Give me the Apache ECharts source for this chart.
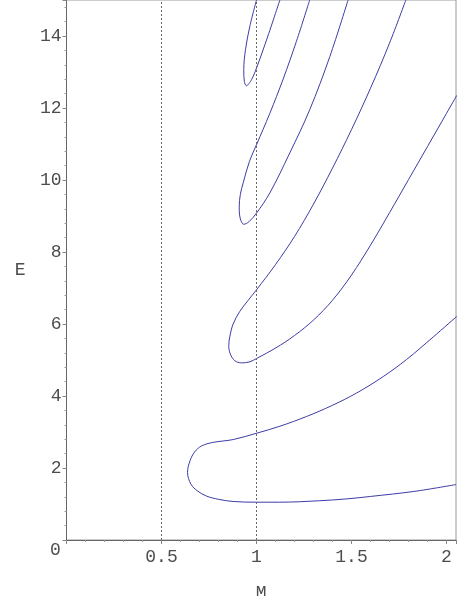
<!DOCTYPE html>
<html>
<head>
<meta charset="utf-8">
<title>E vs M</title>
<script src="https://cdn.jsdelivr.net/npm/echarts@6/dist/echarts.min.js"></script>
<style>
  html, body { margin: 0; padding: 0; background: #fff; }
  #chart { width: 457px; height: 596px; }
</style>
</head>
<body>
<div id="chart"></div>
<script>
// curves, [M, E]
const curve1 = [
  [2.05, 1.54], [1.83, 1.35], [1.6, 1.21], [1.47, 1.14], [1.33, 1.09], [1.12, 1.05],
  [1.0, 1.05], [0.877, 1.07], [0.80, 1.13], [0.737, 1.22], [0.69, 1.36], [0.655, 1.55],
  [0.637, 1.88], [0.65, 2.2], [0.675, 2.45], [0.71, 2.61], [0.77, 2.71], [0.877, 2.79],
  [1.003, 2.97], [1.123, 3.16], [1.263, 3.43], [1.395, 3.73], [1.526, 4.08],
  [1.667, 4.54], [1.789, 5.01], [1.93, 5.64], [2.054, 6.21]
]
const curve2 = [
  [2.054, 12.35], [2.0, 11.85], [1.9, 10.93], [1.8, 10.01], [1.7, 9.09], [1.6, 8.19],
  [1.5, 7.36], [1.4, 6.66], [1.3, 6.11], [1.2, 5.68], [1.1, 5.33], [1.003, 5.05],
  [0.965, 4.95], [0.921, 4.92], [0.886, 4.98], [0.862, 5.17], [0.854, 5.4], [0.86, 5.66],
  [0.877, 6.0], [0.912, 6.35], [0.955, 6.65], [1.0, 6.95], [1.1, 7.65], [1.2, 8.43],
  [1.3, 9.33], [1.4, 10.33], [1.5, 11.4], [1.6, 12.55], [1.7, 13.8], [1.786, 15.0]
]
const curve3 = [
  [1.482, 15.0], [1.386, 13.43], [1.28, 11.95], [1.175, 10.75], [1.07, 9.64], [1.0, 9.08],
  [0.96, 8.84], [0.933, 8.77], [0.915, 8.92], [0.909, 9.25], [0.915, 9.6], [0.93, 9.92],
  [0.963, 10.52], [1.0, 10.98], [1.07, 11.85], [1.14, 12.8], [1.21, 13.85], [1.28, 15.0]
]
const curve4 = [
  [1.123, 15.0], [1.06, 14.0], [1.0, 13.11], [0.974, 12.79], [0.947, 12.62], [0.936, 12.74],
  [0.933, 13.06], [0.942, 13.62], [0.965, 14.27], [1.0, 15.0]
]
const guideLines = [0.5, 1]

const lineColor = '#3c3ca6'
const textColor = '#4d4d4d'
const monoFont = '"Liberation Mono", "DejaVu Sans Mono", monospace'

const chart = echarts.init(document.getElementById('chart'))

const curveSeries = [curve1, curve2, curve3, curve4].map((pts, i) => ({
  type: 'line',
  data: pts,
  showSymbol: false,
  smooth: 0.35,
  lineStyle: { color: lineColor, width: 1 },
  // dotted guides hang on the first curve
  markLine: i === 0 ? {
    silent: true,
    symbol: 'none',
    label: { show: false },
    lineStyle: { color: '#666', type: [2, 2], width: 1 },
    data: guideLines.map(v => ({ xAxis: v }))
  } : undefined
}))

chart.setOption({
  animation: false,
  grid: {
    left: 66.5, right: 1, top: 0, bottom: 56,
    outerBoundsMode: 'none',
    show: true, borderColor: '#999', borderWidth: 1
  },
  xAxis: {
    type: 'value',
    min: 0, max: 2.05, interval: 0.5,
    name: 'M', nameLocation: 'middle', nameGap: 44,
    nameTextStyle: { color: textColor, fontFamily: monoFont, fontSize: 18 },
    axisLine: { lineStyle: { color: '#666' } },
    axisTick: { length: 4, lineStyle: { color: '#888' } },
    minorTick: { show: true, splitNumber: 5, length: 2, lineStyle: { color: '#999' } },
    splitLine: { show: false },
    axisLabel: {
      color: textColor, fontFamily: monoFont, fontSize: 18, margin: 8,
      showMaxLabel: false,
      formatter: v => (v === 0 ? '' : String(v))
    }
  },
  yAxis: {
    type: 'value',
    min: 0, max: 15, interval: 2,
    name: 'E', nameLocation: 'middle', nameGap: 41, nameRotate: 0,
    nameTextStyle: { color: textColor, fontFamily: monoFont, fontSize: 18 },
    axisLine: { lineStyle: { color: '#666' } },
    axisTick: { length: 4, lineStyle: { color: '#888' } },
    minorTick: { show: true, splitNumber: 5, length: 2, lineStyle: { color: '#999' } },
    splitLine: { show: false },
    axisLabel: {
      color: textColor, fontFamily: monoFont, fontSize: 18, margin: 5,
      showMaxLabel: false,
      formatter: v => (v === 0 ? '' : String(v))
    }
  },
  graphic: [{
    type: 'text',
    left: 50, top: 541,
    style: { text: '0', fill: textColor, font: '18px ' + monoFont }
  }],
  series: curveSeries
})
</script>
</body>
</html>
